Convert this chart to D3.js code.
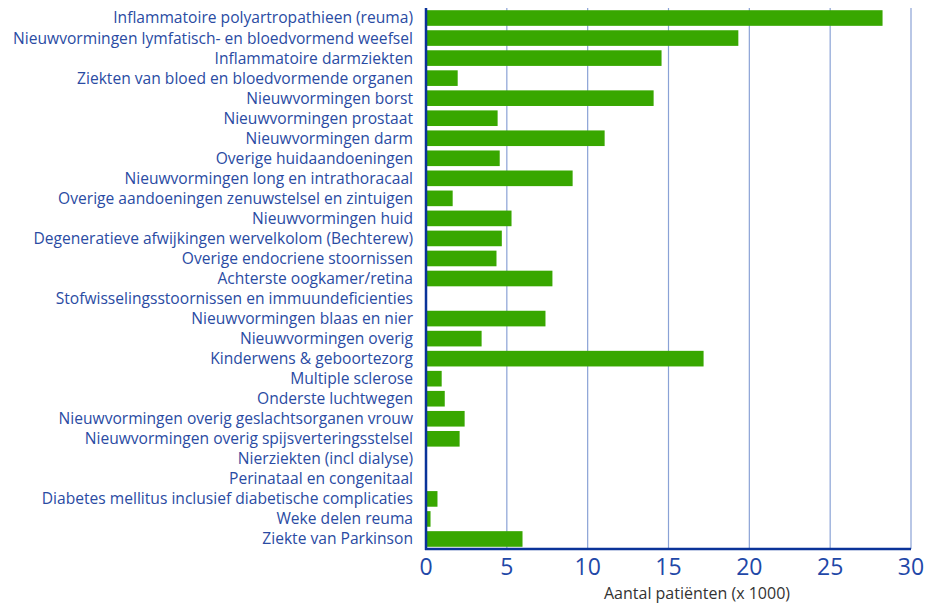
<!DOCTYPE html>
<html>
<head>
<meta charset="utf-8">
<script src="https://cdn.jsdelivr.net/npm/d3@7"></script>
<style>
  body { margin: 0; background: #fff; }
  svg text { font-family: "Open Sans", "Noto Sans", sans-serif; }
</style>
</head>
<body>
<svg id="chart" width="945" height="603"></svg>
<script>
// categories, top to bottom
var categories = [
  "Inflammatoire polyartropathieen (reuma)",
  "Nieuwvormingen lymfatisch- en bloedvormend weefsel",
  "Inflammatoire darmziekten",
  "Ziekten van bloed en bloedvormende organen",
  "Nieuwvormingen borst",
  "Nieuwvormingen prostaat",
  "Nieuwvormingen darm",
  "Overige huidaandoeningen",
  "Nieuwvormingen long en intrathoracaal",
  "Overige aandoeningen zenuwstelsel en zintuigen",
  "Nieuwvormingen huid",
  "Degeneratieve afwijkingen wervelkolom (Bechterew)",
  "Overige endocriene stoornissen",
  "Achterste oogkamer/retina",
  "Stofwisselingsstoornissen en immuundeficienties",
  "Nieuwvormingen blaas en nier",
  "Nieuwvormingen overig",
  "Kinderwens & geboortezorg",
  "Multiple sclerose",
  "Onderste luchtwegen",
  "Nieuwvormingen overig geslachtsorganen vrouw",
  "Nieuwvormingen overig spijsverteringsstelsel",
  "Nierziekten (incl dialyse)",
  "Perinataal en congenitaal",
  "Diabetes mellitus inclusief diabetische complicaties",
  "Weke delen reuma",
  "Ziekte van Parkinson"
];

// aantal patienten (x 1000)
var patients = [
  28.24, 19.32, 14.57, 1.96, 14.08, 4.43, 11.05, 4.56, 9.07, 1.65,
  5.29, 4.69, 4.36, 7.82, 0, 7.39, 3.44, 17.17, 0.97, 1.16,
  2.39, 2.08, 0, 0, 0.71, 0.28, 5.97
];

var xTicks = [0, 5, 10, 15, 20, 25, 30];
var xTitle = "Aantal patiënten (x 1000)";

var data = categories.map((c, i) => ({ name: c, value: patients[i] }));

var svg = d3.select("#chart");
var plotLeft = 426, plotRight = 911, plotTop = 8, plotBottom = 549;

var x = d3.scaleLinear().domain([0, 30]).range([plotLeft, plotRight]);
var y = d3.scaleBand().domain(categories).range([plotTop, plotBottom]).paddingInner(0.22).paddingOuter(0.11);

// gridlines
svg.append("g")
  .selectAll("line")
  .data(xTicks.filter(d => d > 0))
  .join("line")
  .attr("x1", d => x(d)).attr("x2", d => x(d))
  .attr("y1", plotTop).attr("y2", plotBottom)
  .attr("stroke", "#8aa2d6")
  .attr("stroke-width", 1.2);

// bars
svg.append("g")
  .selectAll("rect")
  .data(data)
  .join("rect")
  .attr("x", x(0))
  .attr("y", d => y(d.name))
  .attr("width", d => x(d.value) - x(0))
  .attr("height", y.bandwidth())
  .attr("fill", "#38a700");

// category labels
svg.append("g")
  .selectAll("text")
  .data(data)
  .join("text")
  .attr("x", 413)
  .attr("y", d => y(d.name) + y.bandwidth() / 2)
  .attr("dy", "0.35em")
  .attr("text-anchor", "end")
  .attr("fill", "#2a4ba3")
  .style("font-size", "15.6px")
  .text(d => d.name);

// axis lines
svg.append("line")
  .attr("x1", plotLeft).attr("x2", plotLeft)
  .attr("y1", plotTop).attr("y2", plotBottom + 1)
  .attr("stroke", "#0a3399").attr("stroke-width", 2.5);
svg.append("line")
  .attr("x1", plotLeft - 1).attr("x2", plotRight)
  .attr("y1", plotBottom).attr("y2", plotBottom)
  .attr("stroke", "#0a3399").attr("stroke-width", 2.5);

// tick labels
svg.append("g")
  .selectAll("text")
  .data(xTicks)
  .join("text")
  .attr("x", d => x(d))
  .attr("y", 575)
  .attr("text-anchor", "middle")
  .attr("fill", "#1f48a8")
  .style("font-size", "23px")
  .text(d => d);

svg.append("text")
  .attr("x", 697)
  .attr("y", 599)
  .attr("text-anchor", "middle")
  .attr("fill", "#333")
  .style("font-size", "16px")
  .text(xTitle);
</script>
</body>
</html>
